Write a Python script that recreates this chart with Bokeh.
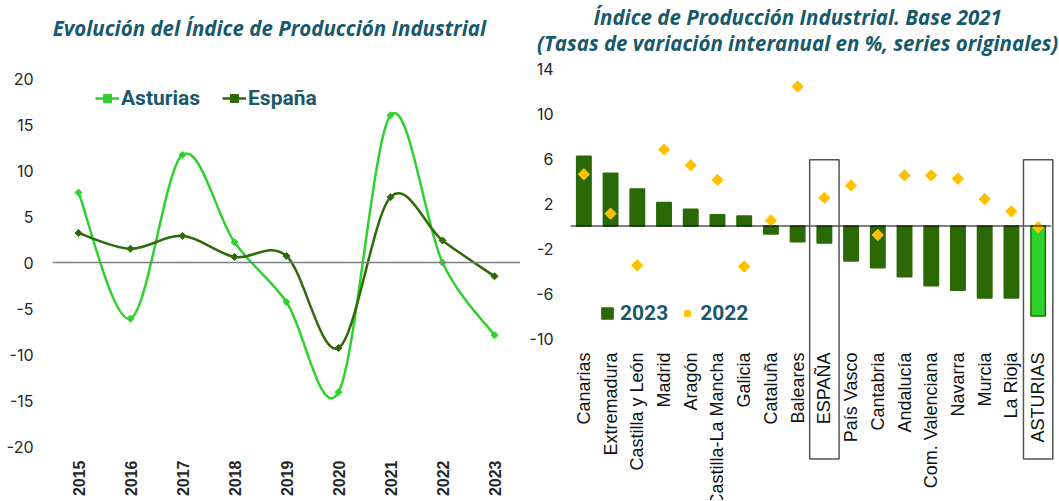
import numpy as np
from bokeh.plotting import figure
from bokeh.models import (Range1d, FactorRange, FixedTicker, Span, Legend,
                          LegendItem, ColumnDataSource)
from bokeh.core.properties import value
from bokeh.layouts import row
from bokeh.embed import file_html
from bokeh.resources import INLINE

# ---------------- data ----------------
years = [2015, 2016, 2017, 2018, 2019, 2020, 2021, 2022, 2023]
asturias = [7.6, -6.1, 11.7, 2.2, -4.3, -14.1, 16.0, 0.0, -7.9]
espana = [3.2, 1.5, 2.9, 0.6, 0.7, -9.3, 7.1, 2.4, -1.5]

regions = ["Canarias", "Extremadura", "Castilla y León", "Madrid", "Aragón",
           "Castilla-La Mancha", "Galicia", "Cataluña", "Baleares", "ESPAÑA",
           "País Vasco", "Cantabria", "Andalucía", "Com. Valenciana", "Navarra",
           "Murcia", "La Rioja", "ASTURIAS"]
ipi_2023 = [6.2, 4.7, 3.3, 2.1, 1.5, 1.0, 0.9, -0.7, -1.4, -1.5,
            -3.1, -3.7, -4.5, -5.3, -5.7, -6.4, -6.4, -8.0]
ipi_2022 = [4.6, 1.1, -3.5, 6.8, 5.4, 4.1, -3.6, 0.5, 12.4, 2.5,
            3.6, -0.8, 4.5, 4.5, 4.2, 2.4, 1.3, -0.1]
highlight = ["ESPAÑA", "ASTURIAS"]

left_title = "Evolución del Índice de Producción Industrial"
right_title = ["Índice de Producción Industrial. Base 2021",
               "(Tasas de variación interanual en %, series originales)"]

left_yticks = list(range(-20, 21, 5))
right_yticks = [-10, -6, -2, 2, 6, 10, 14]

# ---------------- styles ----------------
TEAL = "#17596b"
C_AST = "#2fd12f"
C_ESP = "#2e6a08"
C_BAR = "#2a6905"
C_GOLD = "#ffc000"
TICK = "#262626"
TITLE_FONT = "Open Sans"
LEG_FONT = "Roboto"
H = 500          # figure height (both figures share borders so frames align)
TOP, BOTTOM = 68, 54


def smooth_segments(xs, ys):
    """Cubic Bezier segments (Catmull-Rom style smoothing, like a smoothed line)."""
    xs = np.asarray(xs, float)
    ys = np.asarray(ys, float)
    n = len(xs)
    px = np.concatenate([[xs[0]], xs, [xs[-1]]])
    py = np.concatenate([[ys[0]], ys, [ys[-1]]])
    return dict(
        x0=xs[:-1], y0=ys[:-1], x1=xs[1:], y1=ys[1:],
        cx0=xs[:-1] + (px[2:n + 1] - px[0:n - 1]) / 6.0,
        cy0=ys[:-1] + (py[2:n + 1] - py[0:n - 1]) / 6.0,
        cx1=xs[1:] - (px[3:n + 2] - px[1:n]) / 6.0,
        cy1=ys[1:] - (py[3:n + 2] - py[1:n]) / 6.0,
    )


def plain_labels(ticks):
    return {t: str(t) for t in ticks}


def clean_axes(p):
    p.outline_line_color = None
    p.grid.grid_line_color = None
    for ax in (p.xaxis, p.yaxis):
        ax.axis_line_color = None
        ax.major_tick_line_color = None
        ax.minor_tick_line_color = None
        ax.major_tick_out = 0
        ax.major_tick_in = 0
        ax.major_label_text_color = TICK


# ---------------- left chart ----------------
left = figure(width=520, height=H,
              x_range=Range1d(years[0] - 0.5, years[-1] + 0.5),
              y_range=Range1d(-20, 20 + 10 / 9.2),
              output_backend="svg", toolbar_location=None,
              min_border_left=52, min_border_right=0, min_border_top=TOP,
              min_border_bottom=BOTTOM)
clean_axes(left)
left.xaxis.ticker = FixedTicker(ticks=years)
left.yaxis.ticker = FixedTicker(ticks=left_yticks)
left.yaxis.major_label_overrides = plain_labels(left_yticks)
left.xaxis.major_label_orientation = np.pi / 2
left.xaxis.major_label_text_font = "Liberation Sans"
left.xaxis.major_label_text_font_style = "bold"
left.xaxis.major_label_text_font_size = "16px"
left.xaxis.major_label_standoff = 14
left.yaxis.major_label_text_font = "Inter"
left.yaxis.major_label_text_font_size = "16px"
left.yaxis.major_label_standoff = 19

left.add_layout(Span(location=0, dimension="width", line_color="#7f7f7f", line_width=1.5))

src_a = ColumnDataSource(smooth_segments(years, asturias))
src_e = ColumnDataSource(smooth_segments(years, espana))
bz_a = left.bezier("x0", "y0", "x1", "y1", "cx0", "cy0", "cx1", "cy1", source=src_a,
                   line_color=C_AST, line_width=2.5)
bz_e = left.bezier("x0", "y0", "x1", "y1", "cx0", "cy0", "cx1", "cy1", source=src_e,
                   line_color=C_ESP, line_width=2.5)
sc_a = left.scatter(years, asturias, marker="square", angle=np.pi / 4, size=5,
                    fill_color=C_AST, line_color=C_AST)
sc_e = left.scatter(years, espana, marker="square", angle=np.pi / 4, size=5,
                    fill_color=C_ESP, line_color=C_ESP)

leg_l = Legend(items=[LegendItem(label="Asturias", renderers=[bz_a, sc_a]),
                      LegendItem(label="España", renderers=[bz_e, sc_e])],
               location=(43, 336), orientation="horizontal",
               glyph_width=24, glyph_height=20, label_standoff=2, spacing=22,
               padding=0, margin=0, label_text_font=LEG_FONT,
               label_text_font_size="21px", label_text_font_style="bold",
               label_text_color=TEAL, background_fill_alpha=0,
               border_line_alpha=0)
left.add_layout(leg_l)

left.text(x=[2018.67], y=[25.54], text=[left_title],
          text_align="center", text_baseline="middle",
          text_font=value(TITLE_FONT), text_font_size="20.5px",
          text_font_style="bold italic", text_color=TEAL, level="overlay")

# ---------------- right chart ----------------
right = figure(width=539, height=H,
               x_range=FactorRange(factors=regions, range_padding=0),
               y_range=Range1d(14 - 378 / 11.25, 14),
               output_backend="svg", toolbar_location=None,
               min_border_left=50, min_border_right=8, min_border_top=TOP,
               min_border_bottom=BOTTOM)
clean_axes(right)
right.xaxis.visible = False
right.yaxis.ticker = FixedTicker(ticks=right_yticks)
right.yaxis.major_label_overrides = plain_labels(right_yticks)
right.yaxis.major_label_text_font = "Inter"
right.yaxis.major_label_text_font_size = "16px"
right.yaxis.major_label_standoff = 17

bar_fill = [C_AST if r == "ASTURIAS" else C_BAR for r in regions]
src_b = ColumnDataSource(dict(x=regions, top=ipi_2023, fill=bar_fill))
bars = right.vbar(x="x", top="top", bottom=0, width=0.54, source=src_b,
                  fill_color="fill", line_color=C_BAR, line_width=1.5)
right.add_layout(Span(location=0, dimension="width", line_color="black", line_width=1))
dia = right.scatter(regions, ipi_2022, marker="square", angle=np.pi / 4, size=8,
                    fill_color=C_GOLD, line_color=C_GOLD)

# category labels (rotated), drawn below the plotting area
right.text(x=regions, y=[-11.24] * len(regions), text=regions, angle=np.pi / 2,
           text_align="right", text_baseline="middle",
           text_font=value("Liberation Sans"), text_font_size="18px",
           text_color="#111111", level="overlay")

box_top = 5.9
box_bottom = -20.7
right.rect(x=highlight, y=(box_top + box_bottom) / 2, width=1.1,
           height=box_top - box_bottom, fill_color=None, line_color="#555555",
           line_width=1.5, level="overlay")

leg_r = Legend(items=[LegendItem(label="2023", renderers=[bars], index=0),
                      LegendItem(label="2022", renderers=[dia])],
               location=(30, 121), orientation="horizontal",
               glyph_width=14, glyph_height=14, label_standoff=6, spacing=12,
               padding=0, margin=0, label_text_font=LEG_FONT,
               label_text_font_size="21px", label_text_font_style="bold",
               label_text_color=TEAL, background_fill_alpha=0,
               border_line_alpha=0)
right.add_layout(leg_r)

right.text(x=[8.5, 8.5], y=[18.62, 16.31], text=right_title,
           text_align="center", text_baseline="middle",
           text_font=value(TITLE_FONT), text_font_size="20.5px",
           text_font_style="bold italic", text_color=TEAL, level="overlay")

layout = row(left, right)
open("out.html", "w").write(file_html(layout, INLINE))
